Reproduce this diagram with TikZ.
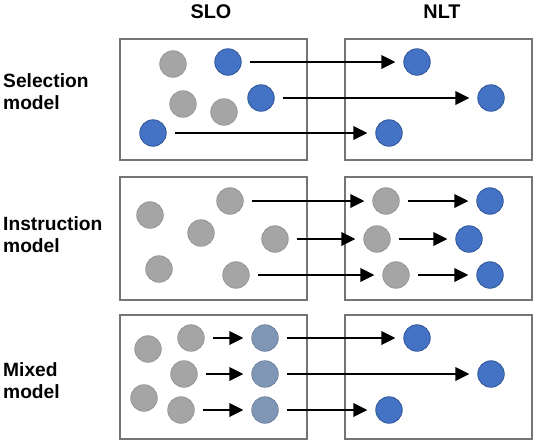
\documentclass[tikz,border=0pt]{standalone}
\usepackage{fontspec}
\setmainfont{Liberation Sans}
\usetikzlibrary{arrows.meta}

\definecolor{boxgray}{HTML}{747474}
\definecolor{dotgray}{HTML}{A5A5A5}
\definecolor{dotgrayline}{HTML}{969696}
\definecolor{dotblue}{HTML}{4472C4}
\definecolor{dotblueline}{HTML}{2F5597}
\definecolor{dotmix}{HTML}{7F97B5}
\definecolor{dotmixline}{HTML}{6D85A3}

\begin{document}
\begin{tikzpicture}[x=1pt,y=-1pt,
    dot/.style={circle,minimum size=26.5pt,inner sep=0pt,line width=0.8pt},
    gdot/.style={dot,fill=dotgray,draw=dotgrayline},
    bdot/.style={dot,fill=dotblue,draw=dotblueline},
    mdot/.style={dot,fill=dotmix,draw=dotmixline},
    box/.style={draw=boxgray,line width=2pt},
    arr/.style={-{Triangle[length=14pt,width=13.5pt]},line width=2.3pt,shorten <=8pt,shorten >=8pt},
    lbl/.style={font=\fontsize{19.2}{22}\selectfont\bfseries,align=left,anchor=west,inner sep=0pt},
    head/.style={font=\fontsize{19.8}{22}\selectfont\bfseries}]
    \useasboundingbox (0,0) rectangle (536,440);
    % headings
    \node[head] (slo) at (211,12) {SLO};
    \node[head] (nlt) at (442,12) {NLT};
    % boxes
    \draw[box] (120,39) rectangle (307,160);
    \draw[box] (345,39) rectangle (532,160);
    \draw[box] (120,177) rectangle (307,300);
    \draw[box] (345,177) rectangle (532,300);
    \draw[box] (120,315) rectangle (307,439);
    \draw[box] (345,315) rectangle (532,439);
    % row labels
    \node[lbl] (sel) at (3,92) {Selection\\model};
    \node[lbl] (ins) at (3,235) {Instruction\\model};
    \node[lbl] (mix) at (3,381) {Mixed\\model};
    % selection model
    \node[gdot] (s1) at (173,64) {};
    \node[gdot] (s2) at (183,104) {};
    \node[gdot] (s3) at (224,112) {};
    \node[bdot] (a1) at (228,62) {};
    \node[bdot] (a2) at (261,98) {};
    \node[bdot] (a3) at (153,133) {};
    \node[bdot] (b1) at (417,62) {};
    \node[bdot] (b2) at (491,98) {};
    \node[bdot] (b3) at (389,133) {};
    \draw[arr] (a1) -- (b1);
    \draw[arr] (a2) -- (b2);
    \draw[arr] (a3) -- (b3);
    % instruction model
    \node[gdot] (t1) at (150,215) {};
    \node[gdot] (t2) at (201,233) {};
    \node[gdot] (t3) at (159,269) {};
    \node[gdot] (c1) at (230,201) {};
    \node[gdot] (c2) at (275,239) {};
    \node[gdot] (c3) at (236,275) {};
    \node[gdot] (d1) at (386,201) {};
    \node[gdot] (d2) at (377,239) {};
    \node[gdot] (d3) at (396,275) {};
    \node[bdot] (e1) at (490,201) {};
    \node[bdot] (e2) at (469,239) {};
    \node[bdot] (e3) at (490,275) {};
    \draw[arr] (c1) -- (d1);
    \draw[arr] (c2) -- (d2);
    \draw[arr] (c3) -- (d3);
    \draw[arr] (d1) -- (e1);
    \draw[arr] (d2) -- (e2);
    \draw[arr] (d3) -- (e3);
    % mixed model
    \node[gdot] (u1) at (148,349) {};
    \node[gdot] (u2) at (144,398) {};
    \node[gdot] (f1) at (191,338) {};
    \node[gdot] (f2) at (184,374) {};
    \node[gdot] (f3) at (181,410) {};
    \node[mdot] (m1) at (265,338) {};
    \node[mdot] (m2) at (265,374) {};
    \node[mdot] (m3) at (265,410) {};
    \node[bdot] (h1) at (417,338) {};
    \node[bdot] (h2) at (491,374) {};
    \node[bdot] (h3) at (389,410) {};
    \draw[arr] (f1) -- (m1);
    \draw[arr] (f2) -- (m2);
    \draw[arr] (f3) -- (m3);
    \draw[arr] (m1) -- (h1);
    \draw[arr] (m2) -- (h2);
    \draw[arr] (m3) -- (h3);
\end{tikzpicture}
\end{document}
